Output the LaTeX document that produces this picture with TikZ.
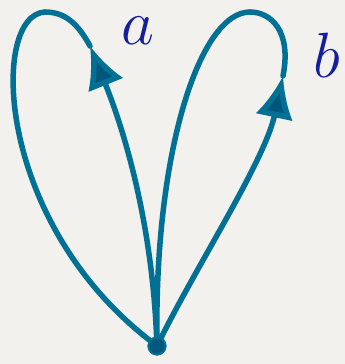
\documentclass[tikz,border=0pt]{standalone}
\usepackage{fix-cm}
\usepackage{tikz}
\usetikzlibrary{arrows.meta}
\definecolor{paper}{RGB}{242,241,237}
\definecolor{loopteal}{RGB}{0,112,148}
\definecolor{loopdark}{RGB}{0,86,124}
\definecolor{letterblue}{RGB}{20,30,158}
\begin{document}
\begin{tikzpicture}[x=1pt, y=-1pt,
    loopline/.style={draw=loopteal, line width=5.5pt, line cap=round},
    looptip/.style={-{Latex[length=42pt, width=38pt, fill=loopdark]}},
    base/.style={circle, fill=loopdark, draw=loopteal, line width=2pt, minimum size=17pt, inner sep=0pt},
    letter/.style={text=letterblue, font=\fontsize{64}{64}\selectfont, inner sep=0pt}
]

\useasboundingbox (0,0) rectangle (345,364);
\fill[paper] (0,0) rectangle (345,364);

\node[base] (dot) at (157,346) {};
\coordinate (tipa) at (90,46);
\coordinate (topa) at (45,12);
\coordinate (tipb) at (283,76);
\coordinate (topb) at (250,12);

% loop a
\draw[loopline, looptip] (dot) .. controls (152,230) and (128,140) .. (tipa);
\draw[loopline] (tipa) .. controls (75,18) and (60,12) .. (topa);
\draw[loopline] (topa) .. controls (-10,15) and (-5,220) .. (dot);

% loop b
\draw[loopline, looptip] (dot) .. controls (200,260) and (265,160) .. (tipb);
\draw[loopline] (tipb) .. controls (292,30) and (270,12) .. (topb);
\draw[loopline] (topb) .. controls (200,12) and (155,150) .. (dot);

\node[base] at (dot) {};

\node[letter] (la) at (138,31) {$a$};
\node[letter] (lb) at (327,55) {$b$};

\end{tikzpicture}
\end{document}
